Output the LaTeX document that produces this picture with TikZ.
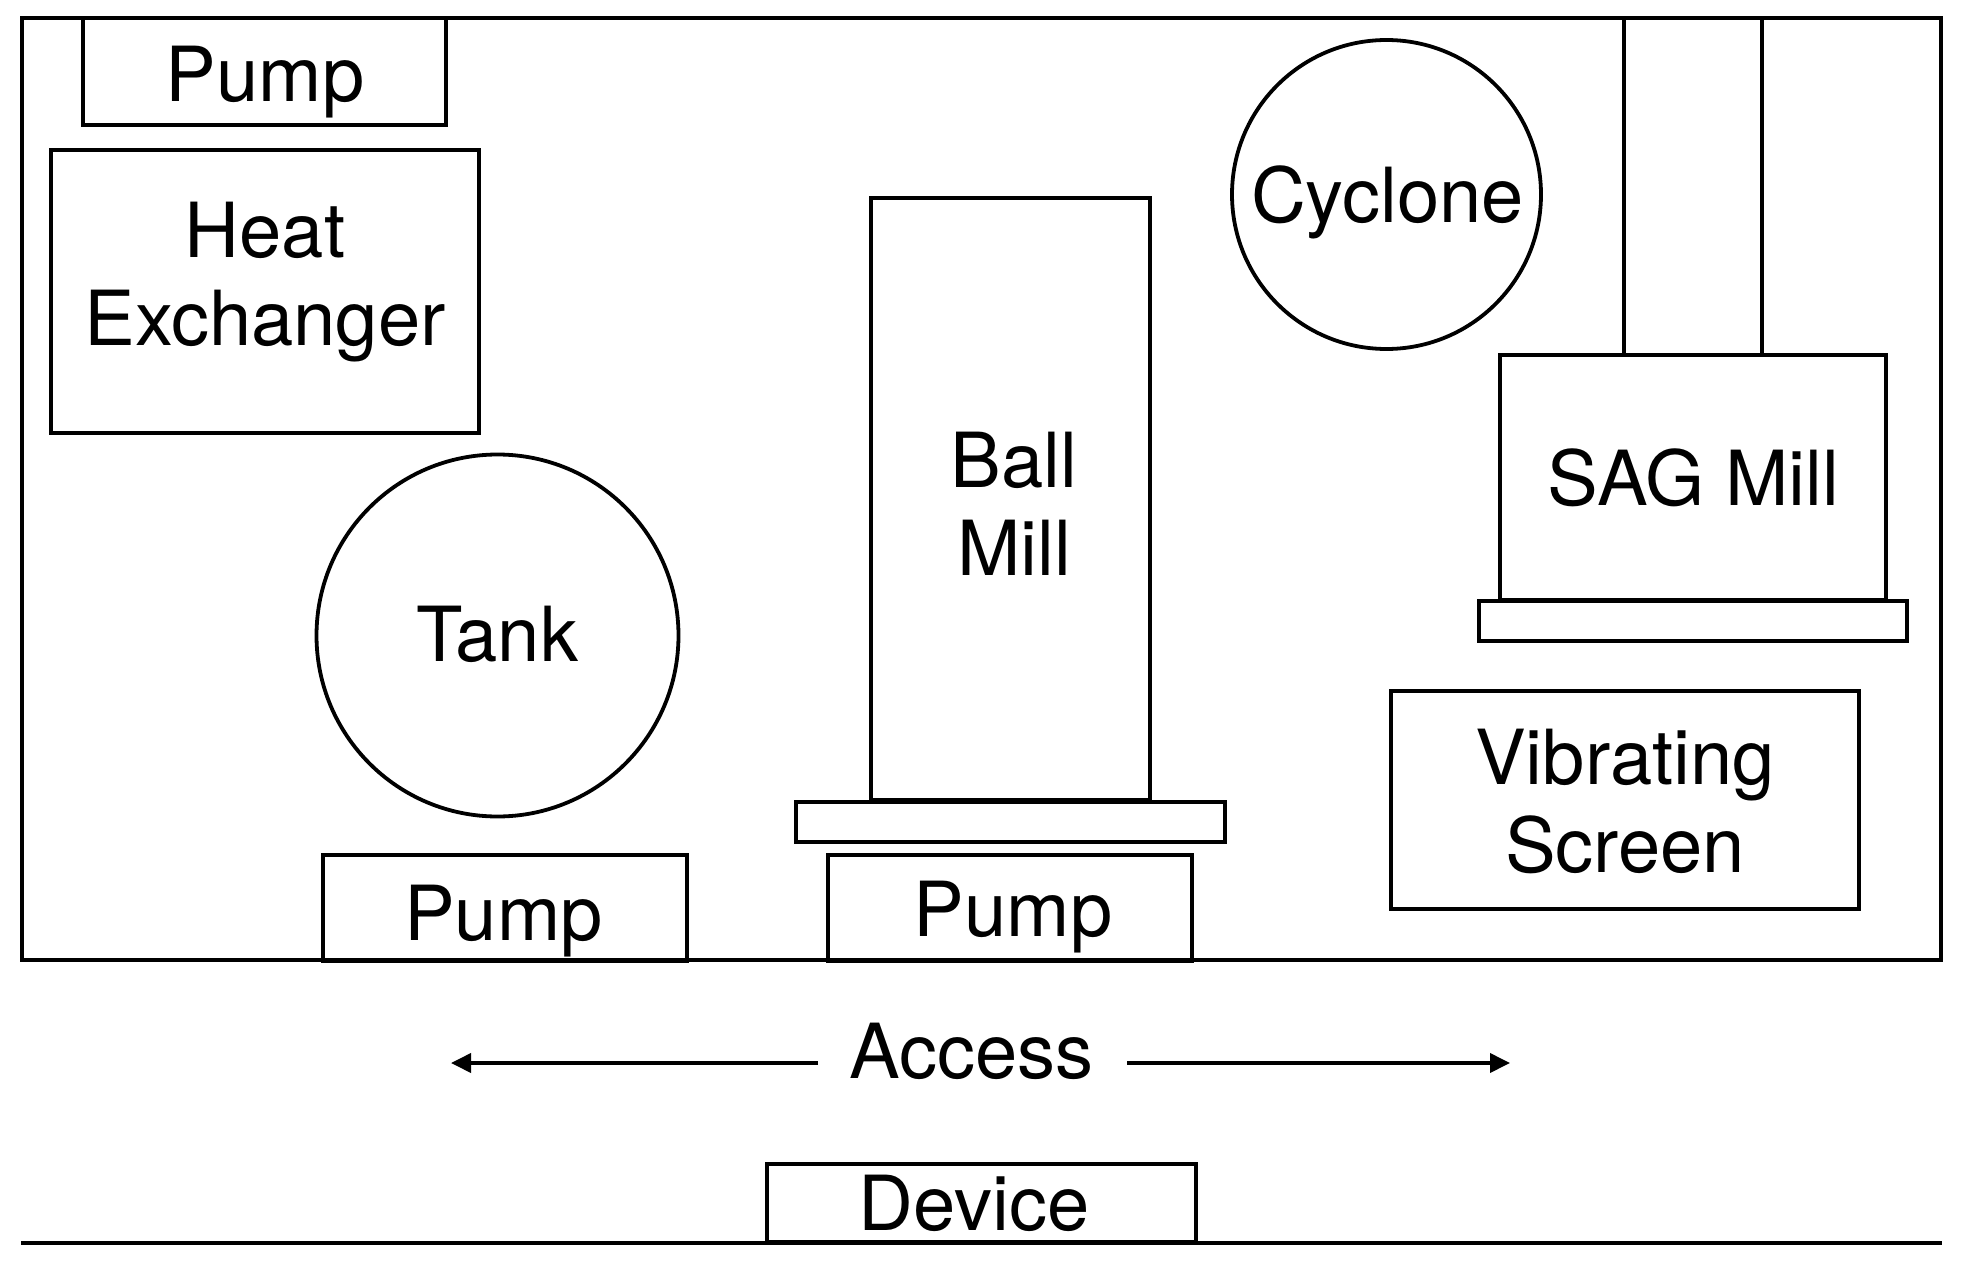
\documentclass[tikz,border=0pt]{standalone}
\usepackage{fontspec}
\setmainfont{TeX Gyre Heros}
\usetikzlibrary{arrows.meta}
\begin{document}
\begin{tikzpicture}[x=1pt,y=-1pt,
  lw/.style={line width=3.8pt},
  box/.style={draw,lw,rectangle,inner sep=0pt,outer sep=0pt},
  rnd/.style={draw,lw,circle,inner sep=0pt,outer sep=0pt},
  lbl/.style={font=\fontsize{76}{88}\selectfont,inner sep=0pt,outer sep=0pt,align=center},
  arr/.style={lw,-{Triangle[length=20pt,width=19pt]}}
]
\useasboundingbox (0,0) rectangle (1968,1268);
\fill[white] (0,0) rectangle (1968,1268);

% plant frame
\node[box,minimum width=1919pt,minimum height=942pt] (frame) at (981.5,489) {};

% equipment
\node[box,minimum width=363pt,minimum height=107pt] (pumpA) at (264.5,71.5) {};
\node[box,minimum width=428pt,minimum height=283pt] (heat) at (265,291.5) {};
\node[rnd,minimum size=362pt] (tank) at (497.5,635.5) {};
\node[box,minimum width=279pt,minimum height=602pt] (ball) at (1010.5,499) {};
\node[box,minimum width=429pt,minimum height=40pt] (ballbase) at (1010.5,822) {};
\node[box,minimum width=364pt,minimum height=106pt] (pumpB) at (505,908) {};
\node[box,minimum width=364pt,minimum height=106pt] (pumpC) at (1010,908) {};
\node[rnd,minimum size=309pt] (cyclone) at (1386.5,194.5) {};
\node[box,minimum width=138pt,minimum height=337pt] (chimney) at (1693,186.5) {};
\node[box,minimum width=386pt,minimum height=245pt] (sag) at (1693,477.5) {};
\node[box,minimum width=428pt,minimum height=40pt] (sagbase) at (1693,621) {};
\node[box,minimum width=468pt,minimum height=218pt] (screen) at (1625,800) {};
\node[box,minimum width=429pt,minimum height=78pt] (device) at (981.5,1203) {};

% labels
\node[lbl,anchor=base] (tPumpA) at (265,102) {Pump};
\node[lbl,anchor=north] (tHeat) at (265,202) {Heat\\Exchanger};
\node[lbl,anchor=base] (tTank) at (497.5,661) {Tank};
\node[lbl,anchor=north] (tBall) at (1014,432) {Ball\\Mill};
\node[lbl,anchor=base] (tPumpB) at (503.5,940) {Pump};
\node[lbl,anchor=base] (tPumpC) at (1013,936) {Pump};
\node[lbl,anchor=base] (tCyclone) at (1387.5,223) {Cyclone};
\node[lbl,anchor=base] (tSag) at (1693.5,505) {SAG Mill};
\node[lbl,anchor=north] (tScreen) at (1625,729) {Vibrating\\Screen};
\node[lbl,anchor=base] (access) at (971.5,1078) {Access};
\node[lbl,anchor=base] (tDevice) at (974,1230) {Device};

% access arrows
\coordinate (lstart) at (818,1063);
\coordinate (ltip) at (451,1063);
\coordinate (rstart) at (1127,1063);
\coordinate (rtip) at (1510,1063);
\draw[arr] (lstart) -- (ltip);
\draw[arr] (rstart) -- (rtip);

% ground line
\coordinate (gl) at (21,1243);
\coordinate (gr) at (1942,1243);
\draw[lw] (gl) -- (gr);
\end{tikzpicture}
\end{document}
